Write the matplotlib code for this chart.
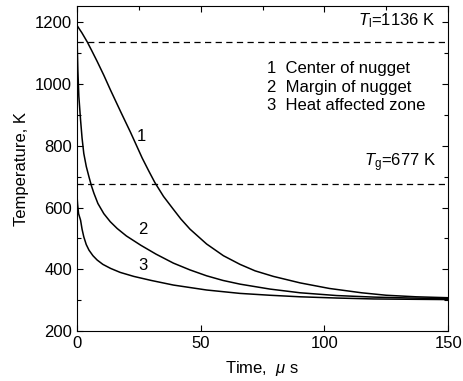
import matplotlib
matplotlib.use('Agg')
import matplotlib.pyplot as plt
from matplotlib.ticker import MultipleLocator

plt.rcParams['font.family'] = ['Liberation Sans', 'DejaVu Sans']
plt.rcParams['mathtext.fontset'] = 'custom'
plt.rcParams['mathtext.rm'] = 'Liberation Sans'
plt.rcParams['mathtext.it'] = 'Liberation Sans:italic'
plt.rcParams['font.size'] = 12

# curve 1: center of nugget
t_centro = [0, 2, 4.2, 6, 8.2, 10.9, 13.6, 17.7, 21.7, 26.4, 29, 31.5, 35, 39, 42, 45.7,
            52.4, 59.2, 65.9, 72, 79.4, 90.2, 102, 115, 125, 137, 150]
T_centro = [1190, 1166, 1136, 1108, 1073, 1028, 980, 910, 843, 760, 719, 681, 636, 594, 563, 530,
            482, 444, 416, 395, 377, 356, 338, 324, 316, 311, 308]

# curve 2: margin of nugget
t_margen = [0, 0.2, 0.4, 0.8, 1.5, 2.1, 2.8, 3.8, 4.9, 5.9, 6.9, 8.5, 10.9, 13.5, 16.3, 20,
            25.8, 32, 39, 45.7, 52.4, 59, 65.9, 78, 90.2, 105, 120, 135, 150]
T_margen = [1190, 1110, 1045, 960, 883, 825, 775, 733, 699, 670, 646, 613, 580, 554, 532, 508,
            478, 449, 420, 398, 379, 364, 352, 336, 324, 315, 310, 307, 305]

# curve 3: heat affected zone
t_zat = [0, 0.3, 0.7, 1.5, 2.1, 2.8, 3.8, 4.9, 6.5, 8.2, 10.5, 13.6, 17.5, 23, 30, 39,
         52.4, 65.9, 78, 90.2, 105, 120, 135, 150]
T_zat = [645, 610, 580, 559, 530, 505, 480, 462, 444, 430, 416, 403, 390, 377, 364, 349,
         333, 322, 316, 311, 307, 304, 303, 302]

T_liquidus = 1136
T_vitrea = 677

etiquetas = ['1', '2', '3']
leyenda = ['1  Center of nugget', '2  Margin of nugget', '3  Heat affected zone']

fig = plt.figure(figsize=(4.63, 3.81), dpi=100)
ax = fig.add_axes([0.166, 0.131, 0.802, 0.853])

for t, T in [(t_centro, T_centro), (t_margen, T_margen), (t_zat, T_zat)]:
    ax.plot(t, T, color='black', lw=1.1, solid_joinstyle='round')

ax.axhline(T_liquidus, color='black', lw=0.9, ls=(0, (5, 3.5)))
ax.axhline(T_vitrea, color='black', lw=0.9, ls=(0, (5, 3.5)))

ax.text(145, 1205, r'$T_\mathrm{l}$=1136 K', ha='right', va='center')
ax.text(145, 744, r'$T_\mathrm{g}$=677 K', ha='right', va='center')

for i, s in enumerate(leyenda):
    ax.text(76.8, 1051 - i * 61, s, ha='left', va='center')

for s, (x, y) in zip(etiquetas, [(26.2, 829), (26.6, 529), (26.8, 411)]):
    ax.text(x, y, s, ha='center', va='center')

ax.set_xlim(0, 150)
ax.set_ylim(200, 1252)
ax.xaxis.set_major_locator(MultipleLocator(50))
ax.xaxis.set_minor_locator(MultipleLocator(25))
ax.yaxis.set_major_locator(MultipleLocator(200))
ax.yaxis.set_minor_locator(MultipleLocator(100))
ax.tick_params(which='both', direction='in', top=True, right=True)
ax.tick_params(which='major', length=4, width=0.8, labelsize=12)
ax.tick_params(which='minor', length=3, width=0.8, bottom=False)

ax.set_xlabel(r'Time,  $\mu$ s', fontsize=12, labelpad=6)
ax.set_ylabel('Temperature, K', fontsize=12, labelpad=4)

fig.savefig('out.png', dpi=100)
